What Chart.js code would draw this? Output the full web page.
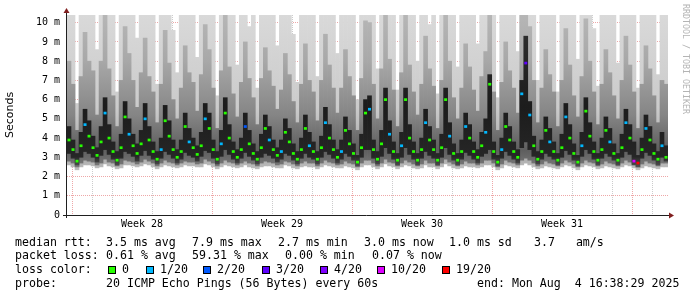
<!DOCTYPE html>
<html>
<head>
<meta charset="utf-8">
<script src="https://cdn.jsdelivr.net/npm/chart.js@4"></script>
<style>
  body { margin: 0; background: #fff; }
  #wrap { position: relative; width: 697px; height: 297px; overflow: hidden; }
  #chart { position: absolute; left: 0; top: 0; }
  .t { position: absolute; font: 11.6px "DejaVu Sans Mono", monospace; color: #000; white-space: pre; line-height: 14px; }
  .box { position: absolute; top: 266px; width: 6px; height: 6px; border: 1px solid #000; }
  #credit { position: absolute; left: 681px; top: 4px; writing-mode: vertical-rl; font: 8.3px "DejaVu Sans Mono", monospace; color: #b4b4b4; white-space: pre; }
</style>
</head>
<body>
<div id="wrap">
  <canvas id="chart" width="697" height="297"></canvas>

  <div class="t" style="left:15px;top:235px">median rtt:</div>
  <div class="t" style="left:106px;top:235px">3.5 ms avg</div>
  <div class="t" style="left:192px;top:235px">7.9 ms max</div>
  <div class="t" style="left:278px;top:235px">2.7 ms min</div>
  <div class="t" style="left:364px;top:235px">3.0 ms now</div>
  <div class="t" style="left:449px;top:235px">1.0 ms sd</div>
  <div class="t" style="left:534px;top:235px">3.7   am/s</div>

  <div class="t" style="left:15px;top:248px">packet loss:</div>
  <div class="t" style="left:106px;top:248px">0.61 % avg</div>
  <div class="t" style="left:192px;top:248px">59.31 % max</div>
  <div class="t" style="left:285px;top:248px">0.00 % min</div>
  <div class="t" style="left:372px;top:248px">0.07 % now</div>

  <div class="t" style="left:15px;top:262px">loss color:</div>
  <div id="lossLegend"></div>

  <div class="t" style="left:15px;top:276px">probe:</div>
  <div class="t" style="left:106px;top:276px">20 ICMP Echo Pings (56 Bytes) every 60s</div>
  <div class="t" style="left:477px;top:276px">end: Mon Aug  4 16:38:29 2025</div>

  <div id="credit">RRDTOOL / TOBI OETIKER</div>
</div>
<script>
// 4.8 h steps, 5 per day from Mon Jul 7 (week 28); first value is the tail of Jul 6
const medianMs = [
  3.9,
  3.4, 2.8, 3.6, 4.7, 4.1,
  3.5, 3.1, 3.8, 5.3, 4.0,
  3.3, 2.85, 3.5, 5.1, 4.2,
  3.6, 3.2, 3.7, 5.0, 3.9,
  3.3, 2.9, 3.4, 4.9, 4.1,
  3.4, 3.0, 3.3, 4.6, 3.8,
  3.5, 3.15, 3.6, 5.0, 4.5,
  3.4, 2.9, 3.7, 5.3, 4.0,
  3.3, 3.0, 3.4, 4.6, 3.7,
  3.2, 2.9, 3.5, 4.5, 3.9,
  3.4, 3.1, 3.3, 4.3, 3.8,
  3.2, 2.9, 3.4, 4.5, 3.6,
  3.3, 2.9, 3.5, 4.8, 4.0,
  3.4, 3.0, 3.3, 4.4, 3.7,
  3.2, 2.75, 3.5, 5.3, 5.5,
  3.4, 2.9, 3.7, 6.0, 4.2,
  3.3, 2.85, 3.6, 6.0, 4.0,
  3.3, 2.85, 3.4, 4.8, 3.9,
  3.4, 2.85, 3.5, 6.0, 4.1,
  3.2, 2.85, 3.3, 4.6, 4.0,
  3.3, 3.0, 3.6, 4.3, 6.8,
  3.3, 2.75, 3.4, 4.6, 3.9,
  3.3, 3.0, 6.3, 7.9, 5.2,
  3.6, 2.9, 3.3, 4.4, 3.8,
  3.3, 2.85, 3.5, 5.1, 4.0,
  3.2, 2.75, 3.6, 5.4, 4.1,
  3.3, 2.85, 3.4, 4.4, 3.8,
  3.2, 2.85, 3.5, 4.8, 4.0,
  2.8, 2.7, 3.4, 4.5, 3.9,
  3.2, 2.9, 3.6, 3.0
];
// lost pings out of 20 for each step
const lossCount = [
  0,
  0, 0, 0, 1, 0,
  0, 0, 0, 1, 0,
  0, 0, 0, 0, 1,
  0, 0, 0, 1, 0,
  0, 0, 1, 0, 0,
  0, 0, 0, 0, 1,
  0, 0, 0, 1, 0,
  0, 0, 1, 0, 0,
  0, 0, 0, 2, 0,
  0, 0, 0, 0, 1,
  0, 0, 1, 0, 0,
  0, 0, 0, 0, 1,
  0, 0, 0, 1, 0,
  0, 0, 1, 0, 0,
  0, 0, 0, 0, 1,
  0, 0, 0, 0, 1,
  0, 0, 1, 0, 0,
  0, 0, 0, 1, 0,
  0, 0, 0, 0, 1,
  0, 0, 0, 1, 0,
  0, 0, 0, 1, 0,
  0, 0, 1, 0, 0,
  0, 0, 1, 3, 1,
  0, 0, 0, 0, 1,
  0, 0, 0, 1, 0,
  0, 0, 1, 0, 0,
  0, 0, 0, 0, 1,
  0, 0, 0, 1, 0,
  10, 19, 0, 1, 0,
  0, 0, 1, 0
];
// smoke: fastest / slowest ping of the step (slowest clipped at the top)
const smokeMin = [
  2.6,
  2.5, 2.35, 2.5, 2.6, 2.6,
  2.55, 2.45, 2.5, 2.65, 2.55,
  2.5, 2.4, 2.45, 2.6, 2.6,
  2.55, 2.5, 2.55, 2.65, 2.6,
  2.5, 2.4, 2.5, 2.6, 2.55,
  2.5, 2.45, 2.5, 2.6, 2.55,
  2.55, 2.5, 2.5, 2.65, 2.6,
  2.5, 2.4, 2.5, 2.6, 2.55,
  2.5, 2.45, 2.5, 2.6, 2.5,
  2.45, 2.4, 2.5, 2.55, 2.55,
  2.5, 2.45, 2.45, 2.6, 2.55,
  2.45, 2.4, 2.5, 2.55, 2.5,
  2.5, 2.4, 2.5, 2.6, 2.55,
  2.5, 2.45, 2.45, 2.55, 2.5,
  2.45, 2.35, 2.5, 2.6, 2.6,
  2.5, 2.4, 2.5, 2.65, 2.55,
  2.5, 2.4, 2.5, 2.6, 2.55,
  2.45, 2.4, 2.45, 2.6, 2.5,
  2.5, 2.4, 2.5, 2.65, 2.55,
  2.45, 2.4, 2.45, 2.55, 2.5,
  2.5, 2.45, 2.5, 2.6, 2.6,
  2.5, 2.35, 2.45, 2.6, 2.55,
  2.5, 2.45, 2.6, 2.7, 2.6,
  2.5, 2.4, 2.45, 2.55, 2.5,
  2.45, 2.4, 2.5, 2.6, 2.55,
  2.45, 2.35, 2.5, 2.6, 2.55,
  2.5, 2.4, 2.45, 2.55, 2.5,
  2.45, 2.4, 2.5, 2.6, 2.55,
  2.45, 2.35, 2.45, 2.55, 2.5,
  2.45, 2.4, 2.5, 2.5
];
const smokeMax = [
  10.4,
  10.4, 5.8, 10.4, 10.4, 10.4,
  10.4, 8.6, 10.4, 10.4, 10.4,
  10.4, 6.4, 10.4, 10.4, 10.4,
  10.4, 9.2, 10.4, 10.4, 10.4,
  10.4, 6.8, 10.4, 10.4, 10.4,
  9.6, 7.4, 10.4, 10.4, 10.4,
  10.4, 8.2, 10.4, 10.4, 10.4,
  10.4, 6.2, 10.4, 10.4, 10.4,
  10.4, 7.8, 10.4, 10.4, 9.8,
  10.4, 6.6, 10.4, 10.4, 10.4,
  10.4, 8.8, 10.4, 10.4, 10.4,
  9.4, 6.9, 10.4, 10.4, 10.4,
  10.4, 7.2, 10.4, 10.4, 10.4,
  10.4, 8.4, 10.4, 10.4, 10.4,
  10.4, 6.0, 10.4, 10.4, 10.4,
  10.4, 7.6, 10.4, 10.4, 10.4,
  10.4, 6.5, 10.4, 10.4, 10.4,
  10.4, 8.0, 10.4, 10.4, 9.9,
  10.4, 6.3, 10.4, 10.4, 10.4,
  10.4, 7.7, 10.4, 10.4, 10.4,
  10.4, 8.9, 10.4, 10.4, 10.4,
  10.4, 6.1, 10.4, 10.4, 10.4,
  10.4, 8.5, 10.4, 10.4, 10.4,
  10.4, 7.0, 10.4, 10.4, 10.4,
  10.4, 6.4, 10.4, 10.4, 10.4,
  10.4, 8.1, 10.4, 10.4, 10.4,
  9.7, 6.7, 10.4, 10.4, 10.4,
  10.4, 7.9, 10.4, 10.4, 10.4,
  10.4, 6.6, 10.4, 10.4, 10.4,
  10.4, 7.3, 10.4, 10.4
];
// middle part of the smoke (most of the 20 pings)
const bandLo = [
  2.8,
  2.7, 2.5, 2.7, 2.85, 2.8,
  2.75, 2.6, 2.7, 2.9, 2.75,
  2.7, 2.55, 2.65, 2.85, 2.8,
  2.75, 2.65, 2.75, 2.9, 2.8,
  2.7, 2.55, 2.7, 2.85, 2.75,
  2.7, 2.6, 2.7, 2.8, 2.75,
  2.75, 2.65, 2.7, 2.9, 2.8,
  2.7, 2.55, 2.7, 2.85, 2.75,
  2.7, 2.6, 2.7, 2.8, 2.7,
  2.65, 2.55, 2.7, 2.8, 2.75,
  2.7, 2.6, 2.65, 2.8, 2.75,
  2.65, 2.55, 2.7, 2.8, 2.7,
  2.7, 2.55, 2.7, 2.85, 2.75,
  2.7, 2.6, 2.65, 2.8, 2.7,
  2.65, 2.5, 2.7, 2.85, 2.85,
  2.7, 2.55, 2.7, 2.9, 2.75,
  2.7, 2.55, 2.7, 2.85, 2.75,
  2.65, 2.55, 2.65, 2.85, 2.7,
  2.7, 2.55, 2.7, 2.9, 2.75,
  2.65, 2.55, 2.65, 2.8, 2.7,
  2.7, 2.6, 2.7, 2.85, 2.85,
  2.7, 2.5, 2.65, 2.85, 2.75,
  2.7, 2.6, 2.85, 2.95, 2.85,
  2.7, 2.55, 2.65, 2.8, 2.7,
  2.65, 2.55, 2.7, 2.85, 2.75,
  2.65, 2.5, 2.7, 2.85, 2.75,
  2.7, 2.55, 2.65, 2.8, 2.7,
  2.65, 2.55, 2.7, 2.85, 2.75,
  2.65, 2.5, 2.65, 2.8, 2.7,
  2.65, 2.55, 2.7, 2.7
];
const bandHi = [
  8.0,
  6.8, 4.4, 7.2, 9.5, 8.0,
  7.5, 5.2, 8.0, 10.4, 7.6,
  6.2, 4.6, 7.0, 9.8, 8.4,
  7.0, 5.6, 7.4, 9.2, 7.2,
  6.4, 4.8, 6.8, 9.6, 7.9,
  6.0, 5.0, 6.6, 8.8, 7.4,
  6.9, 5.4, 7.3, 9.9, 8.6,
  6.6, 4.5, 7.5, 10.4, 7.7,
  6.3, 5.1, 6.9, 9.0, 7.1,
  6.1, 4.7, 7.1, 8.7, 7.5,
  6.7, 5.5, 6.5, 8.4, 7.3,
  5.9, 4.8, 6.8, 8.9, 7.0,
  6.4, 4.9, 7.0, 9.4, 7.8,
  6.6, 5.3, 6.6, 8.6, 7.2,
  6.2, 4.4, 7.1, 10.1, 10.0,
  6.8, 5.0, 7.6, 10.4, 8.1,
  6.5, 4.6, 7.4, 10.4, 7.8,
  6.4, 5.2, 6.8, 9.3, 7.6,
  6.7, 4.5, 7.0, 10.4, 8.0,
  6.1, 5.0, 6.6, 8.9, 7.7,
  6.5, 5.4, 7.2, 8.5, 10.4,
  6.4, 4.4, 6.9, 9.0, 7.5,
  6.6, 5.3, 10.4, 10.4, 9.8,
  7.0, 4.8, 6.6, 8.6, 7.3,
  6.4, 4.6, 7.0, 9.7, 7.8,
  6.2, 5.1, 7.2, 10.2, 8.0,
  6.4, 4.7, 6.8, 8.6, 7.4,
  6.2, 5.0, 7.0, 9.3, 7.8,
  6.4, 4.5, 6.8, 8.8, 7.6,
  6.2, 4.8, 7.0, 6.8
];
// dense core of the smoke around the median
const coreLo = [
  3.2,
  2.95, 2.6, 3.0, 3.3, 3.2,
  3.0, 2.75, 3.1, 3.4, 3.15,
  2.9, 2.6, 2.95, 3.3, 3.2,
  3.05, 2.8, 3.1, 3.35, 3.1,
  2.9, 2.65, 2.95, 3.3, 3.15,
  2.95, 2.7, 2.9, 3.25, 3.1,
  3.0, 2.8, 3.05, 3.35, 3.25,
  2.95, 2.65, 3.05, 3.4, 3.15,
  2.9, 2.7, 2.95, 3.25, 3.05,
  2.85, 2.65, 3.0, 3.2, 3.1,
  2.95, 2.75, 2.9, 3.2, 3.1,
  2.85, 2.65, 2.95, 3.2, 3.0,
  2.9, 2.65, 3.0, 3.3, 3.15,
  2.95, 2.7, 2.9, 3.2, 3.05,
  2.85, 2.55, 3.0, 3.4, 3.4,
  2.95, 2.65, 3.05, 3.5, 3.2,
  2.9, 2.6, 3.0, 3.5, 3.15,
  2.9, 2.6, 2.95, 3.3, 3.1,
  2.95, 2.6, 3.0, 3.5, 3.15,
  2.85, 2.6, 2.9, 3.25, 3.1,
  2.9, 2.7, 3.05, 3.2, 3.4,
  2.9, 2.55, 2.95, 3.3, 3.1,
  2.9, 2.7, 3.5, 3.8, 3.4,
  3.05, 2.65, 2.9, 3.2, 3.05,
  2.9, 2.6, 3.0, 3.35, 3.15,
  2.85, 2.55, 3.05, 3.4, 3.2,
  2.9, 2.6, 2.95, 3.2, 3.05,
  2.85, 2.6, 3.0, 3.3, 3.15,
  2.6, 2.5, 2.95, 3.25, 3.1,
  2.85, 2.6, 3.0, 2.8
];
const coreHi = [
  4.6,
  3.9, 3.2, 4.3, 5.5, 4.9,
  4.1, 3.5, 4.6, 6.1, 4.7,
  3.8, 3.3, 4.2, 5.9, 5.0,
  4.2, 3.7, 4.4, 5.8, 4.6,
  3.8, 3.3, 4.0, 5.7, 4.9,
  3.9, 3.4, 3.9, 5.3, 4.5,
  4.0, 3.6, 4.3, 5.8, 5.3,
  3.9, 3.3, 4.4, 6.1, 4.7,
  3.8, 3.4, 4.0, 5.3, 4.4,
  3.7, 3.3, 4.2, 5.2, 4.6,
  3.9, 3.5, 3.9, 5.0, 4.5,
  3.7, 3.3, 4.0, 5.2, 4.3,
  3.8, 3.3, 4.1, 5.6, 4.7,
  3.9, 3.4, 3.9, 5.1, 4.4,
  3.7, 3.1, 4.2, 6.0, 6.2,
  3.9, 3.3, 4.4, 6.6, 4.9,
  3.8, 3.2, 4.3, 6.6, 4.7,
  3.8, 3.2, 4.0, 5.5, 4.6,
  3.9, 3.2, 4.2, 6.6, 4.8,
  3.7, 3.2, 3.9, 5.3, 4.7,
  3.8, 3.4, 4.3, 5.0, 7.3,
  3.8, 3.1, 4.0, 5.3, 4.6,
  3.8, 3.4, 7.0, 9.3, 5.9,
  4.1, 3.3, 3.9, 5.1, 4.5,
  3.8, 3.2, 4.2, 5.8, 4.7,
  3.7, 3.1, 4.3, 6.1, 4.8,
  3.8, 3.2, 4.0, 5.1, 4.5,
  3.7, 3.2, 4.2, 5.5, 4.7,
  3.8, 3.1, 4.0, 5.2, 4.6,
  3.7, 3.3, 4.3, 3.6
];

const weekLabels = ['Week 28', 'Week 29', 'Week 30', 'Week 31'];
const lossSteps = [0, 1, 2, 3, 4, 10, 19];
const lossColors = ['#26ff00', '#00b8ff', '#0059ff', '#5e00ff', '#7e00ff', '#dd00ff', '#ff0000'];

const MAJOR = 'rgba(222,79,79,0.5)';
const MINOR = 'rgba(143,143,143,0.45)';
const NONE = 'rgba(0,0,0,0)';

// loss colour legend
const boxLeft = [108, 146, 203, 262, 320, 377, 442];
const textLeft = [122, 160, 217, 276, 334, 391, 456];
const lossLegend = document.getElementById('lossLegend');
lossSteps.forEach((n, i) => {
  const b = document.createElement('div');
  b.className = 'box';
  b.style.left = boxLeft[i] + 'px';
  b.style.background = lossColors[i];
  lossLegend.appendChild(b);
  const t = document.createElement('div');
  t.className = 't';
  t.style.left = textLeft[i] + 'px';
  t.style.top = '262px';
  t.textContent = n === 0 ? '0' : n + '/20';
  lossLegend.appendChild(t);
});

const pair = (lo, hi) => lo.map((v, i) => [v, hi[i]]);
const colorFor = n => lossColors[lossSteps.indexOf(n)];

// vertical shading: darker near the median, lighter up in the spikes
const shade = (stops) => (c) => {
  const chart = c.chart;
  if (!chart.chartArea) return stops[0][1];
  const y = chart.scales.y;
  const g = chart.ctx.createLinearGradient(0, y.getPixelForValue(2.4), 0, y.getPixelForValue(10.4));
  stops.forEach(([p, col]) => g.addColorStop(p, col));
  return g;
};

// arrows and axis lines like rrdtool draws them
const axisArrows = {
  id: 'axisArrows',
  afterDraw(chart) {
    const { ctx, chartArea: a } = chart;
    const y0 = Math.round(chart.scales.y.getPixelForValue(0));
    ctx.save();
    ctx.strokeStyle = '#1f1f1f';
    ctx.lineWidth = 1;
    ctx.beginPath();
    ctx.moveTo(a.left - 4, y0 + 0.5);
    ctx.lineTo(a.right + 2, y0 + 0.5);
    ctx.moveTo(a.left - 0.5, y0 + 3);
    ctx.lineTo(a.left - 0.5, a.top - 2);
    ctx.stroke();
    ctx.fillStyle = '#801f1f';
    ctx.beginPath();
    ctx.moveTo(a.right + 1, y0 - 2.5);
    ctx.lineTo(a.right + 6, y0 + 0.5);
    ctx.lineTo(a.right + 1, y0 + 3.5);
    ctx.fill();
    ctx.beginPath();
    ctx.moveTo(a.left - 3.5, a.top - 2);
    ctx.lineTo(a.left - 0.5, a.top - 7);
    ctx.lineTo(a.left + 2.5, a.top - 2);
    ctx.fill();
    ctx.restore();
  }
};

Chart.defaults.font.family = '"DejaVu Sans Mono", monospace';
Chart.defaults.color = '#000';

const barCommon = { grouped: false, barPercentage: 1, categoryPercentage: 1, borderWidth: 0 };

new Chart(document.getElementById('chart'), {
  type: 'bar',
  data: {
    labels: medianMs.map((_, i) => i),
    datasets: [
      Object.assign({}, barCommon, {
        label: 'median',
        data: medianMs.map(m => [m - 0.07, m + 0.07]),
        backgroundColor: lossCount.map(colorFor),
        barPercentage: 0.75,
        inflateAmount: 0
      }),
      Object.assign({}, barCommon, {
        label: 'core', data: pair(coreLo, coreHi),
        backgroundColor: shade([[0, '#5a5a5a'], [0.08, '#262626'], [0.4, '#1c1c1c'], [1, '#303030']])
      }),
      Object.assign({}, barCommon, {
        label: 'band', data: pair(bandLo, bandHi),
        backgroundColor: shade([[0, '#7c7c7c'], [0.12, '#5e5e5e'], [0.35, '#858585'], [0.7, '#a8a8a8'], [1, '#b6b6b6']])
      }),
      Object.assign({}, barCommon, {
        label: 'smoke', data: pair(smokeMin, smokeMax),
        backgroundColor: shade([[0, '#bcbcbc'], [0.1, '#a8a8a8'], [0.4, '#cbcbcb'], [1, '#d9d9d9']])
      })
    ]
  },
  options: {
    responsive: false,
    animation: false,
    devicePixelRatio: 1,
    layout: { padding: { left: 0, right: 29, top: 15, bottom: 62 } },
    plugins: { legend: { display: false }, tooltip: { enabled: false } },
    scales: {
      x: { type: 'category', display: false, offset: true },
      xg: {
        type: 'linear',
        position: 'bottom',
        min: -0.25,
        max: 29.8,
        bounds: 'data',
        offset: false,
        z: 1,
        afterBuildTicks: s => {
          const t = [];
          for (let d = 0; d < 30; d++) t.push({ value: d });
          weekLabels.forEach((_, k) => t.push({ value: 7 * k + 3.5 }));
          t.sort((p, q) => p.value - q.value);
          s.ticks = t;
        },
        afterFit: s => { s.height = 20; },
        grid: {
          offset: false,
          color: c => {
            if (!c.tick) return NONE;
            const v = c.tick.value;
            if (!Number.isInteger(v)) return NONE;
            return v % 7 === 0 ? MAJOR : MINOR;
          },
          lineWidth: 1,
          drawTicks: false
        },
        border: { display: false, dash: [1, 1] },
        ticks: {
          autoSkip: false,
          maxRotation: 0,
          minRotation: 0,
          padding: 3,
          font: { size: 10 },
          callback: v => Number.isInteger(v) ? '' : weekLabels[Math.round((v - 3.5) / 7)]
        }
      },
      y: {
        type: 'linear',
        min: 0,
        max: 10.4,
        z: 1,
        afterBuildTicks: s => {
          const t = [];
          for (let k = 0; k <= 20; k++) t.push({ value: k * 0.5 });
          s.ticks = t;
        },
        afterFit: s => { s.width = 67; },
        grid: {
          color: c => !c.tick ? NONE : (Number.isInteger(c.tick.value) ? MAJOR : MINOR),
          lineWidth: 1,
          drawTicks: false
        },
        border: { display: false, dash: [1, 1] },
        ticks: {
          padding: 7,
          font: { size: 10 },
          callback: v => Number.isInteger(v) ? (v === 0 ? '0' : v + ' m') : ''
        },
        title: {
          display: true,
          text: 'Seconds',
          font: { family: '"DejaVu Sans", sans-serif', size: 11 },
          padding: { top: 4, bottom: 0 }
        }
      }
    }
  },
  plugins: [axisArrows]
});
</script>
</body>
</html>
